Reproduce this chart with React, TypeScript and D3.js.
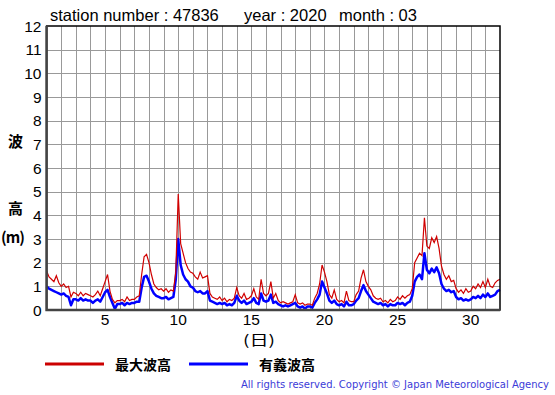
import React, { useRef, useEffect } from "react";
import * as d3 from "d3";

// 4-hourly samples, Mar 1 00h .. Apr 1 00h
const maxWave = [
  1.65, 1.4, 1.3, 1.2, 1.45, 1.15,
  1.0, 1.1, 0.95, 1.0, 0.55, 0.75,
  0.7, 0.6, 0.75, 0.6, 0.7, 0.65,
  0.6, 0.55, 0.65, 0.8, 0.6, 0.9,
  1.2, 1.5, 0.8, 0.45, 0.3, 0.4,
  0.4, 0.45, 0.35, 0.55, 0.4, 0.45,
  0.45, 0.55, 0.6, 1.5, 2.25, 2.35,
  2.0, 1.5, 1.1, 0.95, 0.85, 0.9,
  0.8, 0.9, 0.75, 0.85, 0.8, 1.6,
  4.9, 2.8, 2.4, 2.0, 1.75, 1.6,
  1.55, 1.4, 1.3, 1.6, 1.35, 1.4,
  1.45, 0.7, 0.55, 0.5, 0.45, 0.55,
  0.4, 0.5, 0.35, 0.45, 0.4, 0.5,
  0.95, 0.6, 0.5, 0.7, 0.45, 0.5,
  0.6, 0.9, 0.55, 0.45, 1.3, 0.7,
  0.6, 0.7, 1.2, 0.5, 0.7, 0.4,
  0.3, 0.35, 0.3, 0.25, 0.3, 0.35,
  0.65, 0.3, 0.25, 0.3, 0.2, 0.25,
  0.25, 0.2, 0.5, 0.7, 1.1, 1.9,
  1.6, 1.2, 0.65, 0.5, 0.85, 0.45,
  0.35, 0.4, 0.3, 0.8, 0.4, 0.35,
  0.35, 0.65, 0.8, 1.35, 1.7, 1.2,
  1.0, 0.85, 0.6, 0.5, 0.45, 0.5,
  0.35, 0.4, 0.3, 0.45, 0.35, 0.4,
  0.55, 0.45, 0.6, 0.5, 0.6, 0.65,
  0.9, 2.0, 2.2, 2.4, 2.3, 3.9,
  2.7, 2.6, 3.05, 2.85, 3.1, 2.6,
  1.85, 1.5, 1.3, 1.45, 1.2, 1.25,
  0.9, 0.75, 0.85, 0.7, 0.9, 0.75,
  0.8, 1.0, 0.9, 1.1, 0.95, 1.2,
  0.95, 1.3, 1.0, 0.95, 1.15, 1.25,
  1.3,
];

const sigWave = [
  1.0, 0.9, 0.85, 0.8, 0.75, 0.7,
  0.65, 0.7, 0.6, 0.55, 0.2, 0.45,
  0.45, 0.4, 0.5, 0.4, 0.45, 0.4,
  0.4, 0.3, 0.4, 0.45, 0.35, 0.55,
  0.75, 0.85, 0.55, 0.3, 0.05, 0.25,
  0.25, 0.3, 0.2, 0.3, 0.25, 0.3,
  0.3, 0.35, 0.35, 0.95, 1.4, 1.45,
  1.2, 0.9, 0.7, 0.6, 0.55, 0.5,
  0.5, 0.55, 0.45, 0.5, 0.55, 1.3,
  3.0, 1.9, 1.5, 1.3, 1.2, 1.0,
  0.95, 0.8, 0.75, 0.8, 0.7, 0.7,
  0.8, 0.4, 0.35, 0.3, 0.25, 0.3,
  0.25, 0.3, 0.2, 0.25, 0.2, 0.3,
  0.6, 0.4, 0.3, 0.4, 0.25, 0.3,
  0.35, 0.5, 0.3, 0.25, 0.7, 0.4,
  0.35, 0.4, 0.65, 0.3, 0.35, 0.25,
  0.2, 0.15, 0.2, 0.15, 0.2, 0.25,
  0.3, 0.15, 0.1, 0.15, 0.05, 0.15,
  0.15, 0.1, 0.3, 0.45, 0.65, 1.2,
  0.95, 0.7, 0.4, 0.3, 0.4, 0.25,
  0.2, 0.25, 0.15, 0.35, 0.2, 0.2,
  0.25, 0.4, 0.5, 0.8, 1.05, 0.8,
  0.65, 0.5, 0.35, 0.3, 0.25, 0.3,
  0.2, 0.25, 0.15, 0.25, 0.2, 0.2,
  0.3, 0.25, 0.3, 0.2, 0.3, 0.35,
  0.6, 1.2, 1.4, 1.5, 1.3, 2.4,
  1.7, 1.55, 1.75, 1.6, 1.8, 1.55,
  1.1, 0.9, 0.8, 0.85, 0.75, 0.8,
  0.55, 0.45, 0.5, 0.4, 0.45, 0.4,
  0.45, 0.55, 0.5, 0.6, 0.5, 0.65,
  0.55, 0.7, 0.55, 0.6, 0.65, 0.8,
  0.85,
];

const samplesPerDay = 6;
const xTicks = [5, 10, 15, 20, 25, 30];
const yTicks = [0, 1, 2, 3, 4, 5, 6, 7, 8, 9, 10, 11, 12];
const seriesNames = ["最大波高", "有義波高"];

const App = () => {
  const svgRef = useRef<SVGSVGElement>(null);

  useEffect(() => {
    const svg = d3.select(svgRef.current);
    svg.selectAll("*").remove();

    const width = 555;
    const height = 395;
    const margin = { top: 26, right: 55, bottom: 85, left: 46.6 };
    const sans = "'Liberation Sans', Arial, sans-serif";
    const jp = "'Noto Sans CJK JP', sans-serif";

    svg.attr("viewBox", `0 0 ${width} ${height}`);
    svg.append("rect").attr("width", width).attr("height", height).attr("fill", "#fff");

    const x = d3.scaleLinear().domain([1, 32]).range([margin.left, width - margin.right]);
    const y = d3.scaleLinear().domain([0, 12]).range([height - margin.bottom, margin.top]);

    // grid
    const grid = svg.append("g").attr("stroke", "#999").attr("stroke-width", 1);
    grid
      .selectAll("line.v")
      .data(d3.range(2, 32))
      .join("line")
      .attr("x1", (d) => Math.round(x(d)) + 0.5)
      .attr("x2", (d) => Math.round(x(d)) + 0.5)
      .attr("y1", y(12))
      .attr("y2", y(0));
    grid
      .selectAll("line.h")
      .data(yTicks.slice(1, -1))
      .join("line")
      .attr("x1", x(1))
      .attr("x2", x(32))
      .attr("y1", (d) => Math.round(y(d)) + 0.5)
      .attr("y2", (d) => Math.round(y(d)) + 0.5);

    const toPoints = (vals: number[]) =>
      vals.map((v, i) => ({ t: 1 + i / samplesPerDay, v }));

    const line = d3
      .line<{ t: number; v: number }>()
      .x((d) => x(d.t))
      .y((d) => y(d.v));

    svg
      .append("path")
      .datum(toPoints(sigWave))
      .attr("fill", "none")
      .attr("stroke", "#0000ff")
      .attr("stroke-width", 2.5)
      .attr("stroke-linejoin", "round")
      .attr("d", line);

    svg
      .append("path")
      .datum(toPoints(maxWave))
      .attr("fill", "none")
      .attr("stroke", "#d00000")
      .attr("stroke-width", 1.2)
      .attr("d", line);

    // frame
    svg
      .append("rect")
      .attr("x", x(1))
      .attr("y", y(12))
      .attr("width", x(32) - x(1))
      .attr("height", y(0) - y(12))
      .attr("fill", "none")
      .attr("stroke", "#000")
      .attr("stroke-width", 1.5);
    svg
      .append("path")
      .attr("d", `M${x(1)},${y(12)}V${y(0)}H${x(32)}`)
      .attr("fill", "none")
      .attr("stroke", "#444")
      .attr("stroke-width", 2.5);

    // y tick labels
    svg
      .append("g")
      .selectAll("text")
      .data(yTicks)
      .join("text")
      .attr("x", 41.5)
      .attr("y", (d) => y(d) + 5.5)
      .attr("text-anchor", "end")
      .attr("font-family", sans)
      .attr("font-size", 15.5)
      .text((d) => d);

    // x tick labels
    svg
      .append("g")
      .selectAll("text")
      .data(xTicks)
      .join("text")
      .attr("x", (d) => x(d))
      .attr("y", 325)
      .attr("text-anchor", "middle")
      .attr("font-family", sans)
      .attr("font-size", 15.5)
      .text((d) => d);

    svg
      .append("text")
      .attr("x", 243)
      .attr("y", 345)
      .attr("font-family", jp)
      .attr("font-size", 14)
      .attr("textLength", 32)
      .attr("lengthAdjust", "spacingAndGlyphs")
      .text("(日)");

    // y axis title
    const yTitle = [
      { s: "波", y: 147, w: 0 },
      { s: "高", y: 214, w: 0 },
      { s: "(m)", y: 243, w: 24 },
    ];
    const yt = svg
      .append("g")
      .selectAll("text")
      .data(yTitle)
      .join("text")
      .attr("x", (d) => (d.w ? 1 : 8))
      .attr("y", (d) => d.y)
      .attr("font-family", jp)
      .attr("font-weight", "bold")
      .attr("font-size", 15)
      .text((d) => d.s);
    yt.filter((d) => d.w > 0)
      .attr("textLength", (d) => d.w)
      .attr("lengthAdjust", "spacing");

    // title
    const titles = [
      { s: "station number : 47836", x: 50 },
      { s: "year : 2020", x: 244 },
      { s: "month : 03", x: 339 },
    ];
    svg
      .append("g")
      .selectAll("text")
      .data(titles)
      .join("text")
      .attr("x", (d) => d.x)
      .attr("y", 21)
      .attr("font-family", sans)
      .attr("font-size", 16.5)
      .text((d) => d.s);

    // legend
    const legend = [
      { name: seriesNames[0], color: "#cc0000", x: 45 },
      { name: seriesNames[1], color: "#0000ff", x: 189 },
    ];
    const lg = svg.append("g").selectAll("g").data(legend).join("g");
    lg.append("line")
      .attr("x1", (d) => d.x)
      .attr("x2", (d) => d.x + 59)
      .attr("y1", 364)
      .attr("y2", 364)
      .attr("stroke", (d) => d.color)
      .attr("stroke-width", 3);
    lg.append("text")
      .attr("x", (d) => d.x + 70)
      .attr("y", 370)
      .attr("font-family", jp)
      .attr("font-weight", "bold")
      .attr("font-size", 14)
      .text((d) => d.name);

    svg
      .append("text")
      .attr("x", 241)
      .attr("y", 388)
      .attr("font-family", "'DejaVu Sans', Verdana, sans-serif")
      .attr("font-size", 10)
      .attr("fill", "#3b3bd8")
      .attr("textLength", 308)
      .attr("lengthAdjust", "spacing")
      .text("All rights reserved. Copyright © Japan Meteorological Agency");
  }, []);

  return (
    <div style={{ position: "absolute", left: 0, top: 0 }}>
      <svg ref={svgRef} width={555} height={395} style={{ display: "block" }}></svg>
    </div>
  );
};

export default App;
